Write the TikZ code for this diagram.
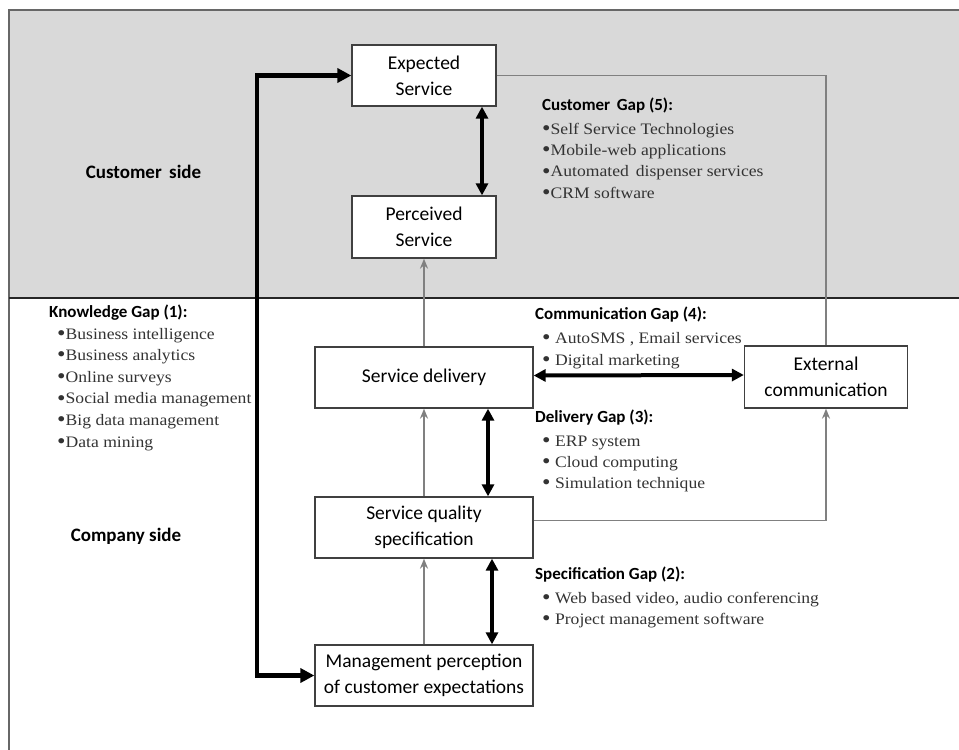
\documentclass[tikz,border=0pt]{standalone}
\usepackage{fontspec}
\setmainfont{Liberation Serif}
\newfontfamily\calfont{Carlito}
\newfontfamily\itemfont[FakeStretch=1.1]{Liberation Serif}
\usetikzlibrary{arrows.meta,calc}
\definecolor{bggray}{HTML}{D9D9D9}
\definecolor{linegray}{HTML}{808080}
\definecolor{boxline}{HTML}{404040}
\definecolor{itemcol}{HTML}{333333}
\newcommand{\bul}{{\fontsize{22}{22}\selectfont\raisebox{-0.12ex}{•}}}
\begin{document}
\begin{tikzpicture}[x=1pt,y=-1pt,
  box/.style={draw=boxline, fill=white, line width=1.3pt, inner sep=0pt,
    font=\calfont\fontsize{19.5}{26}\selectfont, align=center},
  side/.style={font=\calfont\bfseries\fontsize{19}{23}\selectfont, anchor=base},
  head/.style={font=\calfont\bfseries\fontsize{17}{21}\selectfont, anchor=base west, inner sep=0pt},
  itm/.style={font=\itemfont\fontsize{16}{20}\selectfont, text=itemcol, anchor=base west, inner sep=0pt},
  grayarrow/.style={draw=linegray, line width=1.6pt, -{Stealth[length=10pt,width=8pt]}},
  grayline/.style={draw=linegray, line width=1.6pt},
  blackarrow/.style={draw=black, line width=4pt, {Triangle[length=12pt,width=12pt]}-{Triangle[length=12pt,width=12pt]}},
  blackline/.style={draw=black, line width=4.5pt}
]
\useasboundingbox (0,0) rectangle (959,750);
% background regions
\fill[bggray] (9,10) rectangle (959,298);
\draw[linegray!80!black, line width=1.2pt] (959,10) -- (9,10) -- (9,750);
\draw[black!85, line width=1.4pt] (9,298) -- (959,298);

% side labels
\node[side] (cust) at (143.5,178) {Customer\, side};
\node[side] (comp) at (126,541) {Company side};

% boxes
\node[box, minimum width=144, minimum height=61] (exp) at (424,75.5) {Expected\\Service};
\node[box, minimum width=144, minimum height=62] (per) at (424,227) {Perceived\\Service};
\node[box, minimum width=218, minimum height=61] (del) at (424,377.5) {Service delivery};
\node[box, minimum width=218, minimum height=61] (spec) at (424,527.5) {Service quality\\specification};
\node[box, minimum width=218, minimum height=61] (mgmt) at (424,675.5) {Management perception\\of customer expectations};
\node[box, minimum width=163, minimum height=62] (ext) at (826,377) {External\\communication};

% gray connectors
\draw[grayline] (exp.east) -| (ext.north);
\draw[grayarrow] ($(spec.east)+(0,-7)$) -| (ext.south);
\draw[grayarrow] (del.north) -- (per.south);
\draw[grayarrow] (spec.north) -- (del.south);
\draw[grayarrow] (mgmt.north) -- (spec.south);

% black connectors
\coordinate (bend) at (257,400);
\draw[blackline, {Triangle[length=14pt,width=14pt]}-{Triangle[length=14pt,width=14pt]}] (exp.west) -| (bend) |- (mgmt.west);
\draw[blackarrow] ($(exp.south)+(58,0)$) -- ($(per.north)+(58,0)$);
\draw[blackarrow] ($(del.south)+(64,0)$) -- ($(spec.north)+(64,0)$);
\draw[blackarrow] ($(spec.south)+(68,0)$) -- ($(mgmt.north)+(68,0)$);
\draw[blackarrow] ($(del.east)+(0,-2)$) -- ($(ext.west)+(0,-2)$);

% Customer Gap (5)
\node[head] (h5) at (542,110) {Customer\, Gap (5):};
\node[itm] (c1) at (542,134) {\bul Self Service Technologies};
\node[itm] (c2) at (542,155.5) {\bul Mobile-web applications};
\node[itm] (c3) at (542,176.8) {\bul Automated\, dispenser services};
\node[itm] (c4) at (542,198) {\bul CRM software};

% Knowledge Gap (1)
\node[head] (h1) at (49,317) {Knowledge Gap (1):};
\node[itm] (k1) at (57,339) {\bul Business intelligence};
\node[itm] (k2) at (57,360.6) {\bul Business analytics};
\node[itm] (k3) at (57,382.2) {\bul Online surveys};
\node[itm] (k4) at (57,403.8) {\bul Social media management};
\node[itm] (k5) at (57,425.4) {\bul Big data management};
\node[itm] (k6) at (57,447) {\bul Data mining};

% Communication Gap (4)
\node[head] (h4) at (535,319) {Communication Gap (4):};
\node[itm] (m1) at (542,343) {\bul\ AutoSMS , Email services};
\node[itm] (m2) at (542,365) {\bul\ Digital marketing};

% Delivery Gap (3)
\node[head] (h3) at (535,422) {Delivery Gap (3):};
\node[itm] (d1) at (542,446) {\bul\ ERP system};
\node[itm] (d2) at (542,467) {\bul\ Cloud computing};
\node[itm] (d3) at (542,488) {\bul\ Simulation technique};

% Specification Gap (2)
\node[head] (h2) at (535,579) {Specification Gap (2):};
\node[itm] (s1) at (542,603) {\bul\ Web based video, audio conferencing};
\node[itm] (s2) at (542,624) {\bul\ Project management software};
\end{tikzpicture}
\end{document}
